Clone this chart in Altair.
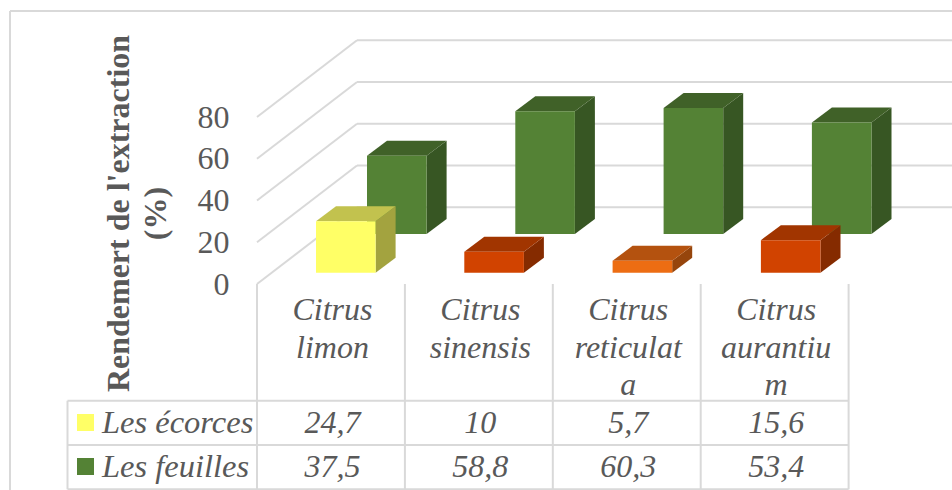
import altair as alt
import pandas as pd

# Extraction yield (%) per species and plant part
species = ["Citrus limon", "Citrus sinensis", "Citrus reticulata", "Citrus aurantium"]
species_wrapped = ["Citrus\nlimon", "Citrus\nsinensis", "Citrus\nreticulat\na", "Citrus\naurantiu\nm"]
ecorces = [24.7, 10, 5.7, 15.6]
feuilles = [37.5, 58.8, 60.3, 53.4]
y_ticks = [0, 20, 40, 60, 80]
series_names = ["Les écorces", "Les feuilles"]

# Shades of each bar: front, top, side
ecorces_shades = [
    ("#FFFF66", "#C2C24E", "#A3A33F"),
    ("#D14300", "#A13500", "#852B00"),
    ("#ED6D13", "#B4520F", "#96450C"),
    ("#D14300", "#A13500", "#852B00"),
]
feuilles_shades = [("#548235", "#406128", "#375623")] * 4
GRID = "#D9D9D9"
TEXT = "#595959"
SERIF = "Liberation Serif"

W, H = 952, 490

# Projection of the oblique 3D frame into data units
CELL = 147.9           # pixels per category
X0 = 257.0             # pixel of category 0
UNIT = 2.0875          # pixels per percent
Y0 = 284.0             # pixel of value 0 on the front edge


def ux(px):
    return (px - X0) / CELL


def uy(px):
    return (Y0 - px) / UNIT


WALL_DX, WALL_DY = ux(357), uy(207.3)    # depth of the back wall
BAR_W = 59.6 / CELL
BAR_PITCH = 148.3 / CELL
BAR_DX, BAR_DY = 20 / CELL, 15 / UNIT    # depth of one bar
FRONT_X, FRONT_BASE = 59.0 / CELL, uy(272.7)
BACK_X, BACK_BASE = 110.0 / CELL, uy(234.0)

xs = alt.Scale(domain=[ux(0), ux(W)], nice=False, zero=False)
ys = alt.Scale(domain=[uy(H), uy(0)], nice=False, zero=False)

# Value axis: labels sit just left of the floor corner
value_axis = alt.Axis(
    values=y_ticks,
    offset=-230,
    domain=False,
    ticks=False,
    grid=False,
    labelFont=SERIF,
    labelFontSize=32,
    labelColor=TEXT,
    labelPadding=1,
    labelOverlap=False,
    title=["Rendemert de l'extraction", "(%)"],
    titleFont=SERIF,
    titleFontSize=32,
    titleFontWeight="bold",
    titleColor=TEXT,
    titleLineHeight=37,
    titleAngle=270,
    titleX=-95,
    titleY=213,
)

X = alt.X("x:Q", scale=xs, axis=None)
X2 = alt.X2("x2:Q")
Y = alt.Y("y:Q", scale=ys, axis=value_axis)
Y2 = alt.Y2("y2:Q")


def rules(rows, color=GRID, width=2):
    df = pd.DataFrame(rows, columns=["x", "x2", "y", "y2"])
    return alt.Chart(df).mark_rule(color=color, strokeWidth=width).encode(X, X2, Y, Y2)


def bar_layers(values, shades, left, base):
    front, top, side = [], [], []
    for i, (v, (c_front, c_top, c_side)) in enumerate(zip(values, shades)):
        x0 = i * BAR_PITCH + left
        x1 = x0 + BAR_W
        crest = base + v
        front.append(dict(x=x0, x2=x1, y=base, y2=crest, c=c_front))
        for xa, xb, ya in [(x0, x1, crest), (x0 + BAR_DX, x1 + BAR_DX, crest + BAR_DY)]:
            top.append(dict(x=xa, x2=xb, y=ya, bar=i, c=c_top))
        for xa, ya, yb in [(x1, base, crest), (x1 + BAR_DX, base + BAR_DY, crest + BAR_DY)]:
            side.append(dict(x=xa, y=ya, y2=yb, bar=i, c=c_side))
    fill = alt.Color("c:N", scale=None)
    return [
        alt.Chart(pd.DataFrame(side)).mark_area(orient="vertical").encode(X, Y, Y2, fill, detail="bar:N"),
        alt.Chart(pd.DataFrame(top)).mark_area(orient="horizontal").encode(X, X2, Y, fill, detail="bar:N"),
        alt.Chart(pd.DataFrame(front)).mark_rect().encode(X, X2, Y, Y2, fill),
    ]


def text_layer(df, size=32, align="center", baseline="middle", **kw):
    return alt.Chart(df).mark_text(
        font=SERIF, fontStyle="italic", fontSize=size, color=TEXT,
        align=align, baseline=baseline, **kw
    ).encode(X, Y, text="t:N")


def decimal(v):
    return f"{v:g}".replace(".", ",")


# Chart frame
frame = rules([
    (ux(10), ux(10), uy(11), uy(H)),
    (ux(10), ux(W), uy(11), uy(11)),
])

# Walls of the 3D box
walls = rules(
    [(0, WALL_DX, v, v + WALL_DY) for v in y_ticks]
    + [(WALL_DX, ux(W), v + WALL_DY, v + WALL_DY) for v in y_ticks]
)

# Data table grid
R0, R1, R2 = uy(400.7), uy(445), uy(489.3)
table_x = ux(67.5)
grid = rules(
    [(i, i, 0, R2) for i in range(5)]
    + [(table_x, table_x, R0, R2)]
    + [(table_x, 4, r, r) for r in (R0, R1, R2)]
)

# Category headers and table cells
TEXT_SHIFT = 1.5 / CELL
centres = [i + 0.5 + TEXT_SHIFT for i in range(4)]
headers = pd.DataFrame(dict(x=centres, y=[uy(295)] * 4, t=species_wrapped))
row1 = pd.DataFrame(dict(x=centres, y=[uy(423)] * 4, t=[decimal(v) for v in ecorces]))
row2 = pd.DataFrame(dict(x=centres, y=[uy(467)] * 4, t=[decimal(v) for v in feuilles]))
names = pd.DataFrame(dict(x=[ux(102)] * 2, y=[uy(423), uy(467)], t=series_names))

# Legend keys in the table's first column
swatches = pd.DataFrame(dict(
    x=[ux(77)] * 2, x2=[ux(94)] * 2,
    y=[uy(414), uy(458)], y2=[uy(431), uy(475)],
    c=[ecorces_shades[0][0], feuilles_shades[0][0]],
))

chart = alt.layer(
    frame,
    walls,
    *bar_layers(feuilles, feuilles_shades, BACK_X, BACK_BASE),
    *bar_layers(ecorces, ecorces_shades, FRONT_X, FRONT_BASE),
    grid,
    text_layer(headers, baseline="top", lineBreak="\n", lineHeight=37.5),
    text_layer(row1),
    text_layer(row2),
    text_layer(names, size=32.5, align="left"),
    alt.Chart(swatches).mark_rect().encode(X, X2, Y, Y2, alt.Color("c:N", scale=None)),
).properties(
    width=W, height=H, padding=0, autosize=alt.AutoSizeParams(type="none"),
).configure_view(stroke=None)

chart.save("out.html", embed_options={"renderer": "svg", "actions": False})
